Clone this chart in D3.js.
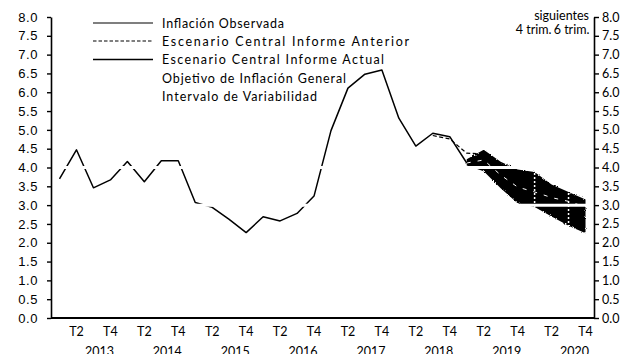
<!DOCTYPE html>
<html>
<head>
<meta charset="utf-8">
<script src="https://cdn.jsdelivr.net/npm/d3@7"></script>
<style>
  html, body { margin: 0; padding: 0; background: #fff; }
  svg { display: block; }
</style>
</head>
<body>
<svg id="chart" width="626" height="354"></svg>
<script>
// Quarterly axis
const years = [2013, 2014, 2015, 2016, 2017, 2018, 2019, 2020];
const quarterNames = ["T1", "T2", "T3", "T4"];
const labelledQuarters = ["T2", "T4"];

// Annual headline inflation, quarterly averages (%), 2013 T1 – 2019 T1
const observed = [3.70, 4.47, 3.46, 3.67, 4.16, 3.62, 4.18, 4.18,
                  3.07, 2.94, 2.62, 2.27, 2.69, 2.58, 2.78, 3.24,
                  4.98, 6.11, 6.48, 6.59, 5.31, 4.57, 4.91, 4.82, 4.12];

// Previous report's central path, 2018 T3 – 2020 T4
const previousStart = "2018T3";
const previousScenario = [4.85, 4.76, 4.38, 4.36, 4.05, 3.65, 3.40, 3.20, 3.10, 3.00];

// Current report: central path and fan bounds, 2019 T1 – 2020 T4
const forecastStart = "2019T1";
const currentScenario = [4.12, 4.20, 3.80, 3.48, 3.35, 3.20, 3.10, 2.95];
const fanUpper = [4.22, 4.47, 4.15, 3.95, 3.88, 3.55, 3.35, 3.15];
const fanLower = [4.05, 3.90, 3.45, 3.05, 2.95, 2.70, 2.45, 2.25];

// Inflation target and variability interval
const targetValue = 3.0;
const intervalValues = [2.0, 4.0];

// Forecast horizon markers
const horizonQuarters = ["2020T1", "2020T3"];
const horizonLabels = ["4 trim.", "6 trim."];
const horizonTitle = "siguientes";

// Y axis ticks
const yTicks = [0, 0.5, 1, 1.5, 2, 2.5, 3, 3.5, 4, 4.5, 5, 5.5, 6, 6.5, 7, 7.5, 8];

// Legend
const legendLabels = ["Inflación Observada",
                      "Escenario Central Informe Anterior",
                      "Escenario Central Informe Actual",
                      "Objetivo de Inflación General",
                      "Intervalo de Variabilidad"];
const legendWidths = [122, 247, 222, 184, 155];

const categories = years.flatMap(y => quarterNames.map(q => y + q));

const svg = d3.select("#chart");
const plot = { left: 51, right: 594, top: 17, bottom: 318 };

const x = d3.scaleBand().domain(categories).range([plot.left, plot.right]).padding(0);
const cx = c => x(c) + x.bandwidth() / 2;
const y = d3.scaleLinear().domain([0, 8]).range([plot.bottom, plot.top]);

const lineGen = d3.line().x(d => cx(d.c)).y(d => y(d.v));
const seriesFrom = (start, values) => {
  const i0 = categories.indexOf(start);
  return values.map((v, i) => ({ c: categories[i0 + i], v }));
};

// rough edges for the fan
const defs = svg.append("defs");
const f = defs.append("filter").attr("id", "rough")
  .attr("x", "-5%").attr("y", "-5%").attr("width", "110%").attr("height", "110%");
f.append("feTurbulence").attr("type", "fractalNoise").attr("baseFrequency", 0.9)
  .attr("numOctaves", 1).attr("seed", 4).attr("result", "noise");
f.append("feDisplacementMap").attr("in", "SourceGraphic").attr("in2", "noise")
  .attr("scale", 3).attr("xChannelSelector", "R").attr("yChannelSelector", "G");

// previous central scenario (dashed)
svg.append("path")
  .datum(seriesFrom(previousStart, previousScenario))
  .attr("d", lineGen)
  .attr("fill", "none").attr("stroke", "#000").attr("stroke-width", 1.2)
  .attr("stroke-dasharray", "4,2.5");

// fan chart
const fanStartIdx = categories.indexOf(forecastStart);
const fanData = fanUpper.map((u, i) => ({ c: categories[fanStartIdx + i], u, l: fanLower[i] }));
svg.append("path")
  .datum(fanData)
  .attr("d", d3.area().x(d => cx(d.c)).y0(d => y(d.l)).y1(d => y(d.u)))
  .attr("fill", "#050505")
  .attr("filter", "url(#rough)");

// current central scenario
svg.append("path")
  .datum(seriesFrom(forecastStart, currentScenario))
  .attr("d", lineGen)
  .attr("fill", "none").attr("stroke", "#fff").attr("stroke-width", 1)
  .attr("stroke-dasharray", "4,7");

// observed inflation
svg.append("path")
  .datum(seriesFrom(categories[0], observed))
  .attr("d", lineGen)
  .attr("fill", "none").attr("stroke", "#000").attr("stroke-width", 1.5)
  .attr("stroke-linejoin", "round");

// target and variability interval
svg.selectAll("line.ref")
  .data([targetValue, ...intervalValues])
  .join("line").attr("class", "ref")
  .attr("x1", plot.left + 2).attr("x2", plot.right - 2)
  .attr("y1", d => y(d)).attr("y2", d => y(d))
  .attr("stroke", "#fff").attr("stroke-width", 3);

// horizon markers
svg.selectAll("line.horizon")
  .data(horizonQuarters)
  .join("line").attr("class", "horizon")
  .attr("x1", d => cx(d)).attr("x2", d => cx(d))
  .attr("y1", plot.top).attr("y2", plot.bottom - 1)
  .attr("stroke", "#fff").attr("stroke-width", 1.5)
  .attr("stroke-dasharray", "2,2");

// axes
const leftAxis = svg.append("g")
  .attr("transform", `translate(${plot.left},0)`)
  .call(d3.axisLeft(y).tickValues(yTicks).tickFormat(d3.format(".1f"))
    .tickSizeInner(4).tickSizeOuter(0).tickPadding(9));
leftAxis.selectAll("text")
  .attr("font-family", "'Liberation Sans', Arial, sans-serif")
  .attr("font-size", 13).attr("fill", "#000").attr("letter-spacing", 0.6);

const rightAxis = svg.append("g")
  .attr("transform", `translate(${plot.right},0)`)
  .call(d3.axisRight(y).tickValues(yTicks).tickFormat(d3.format(".1f"))
    .tickSizeInner(5).tickSizeOuter(0).tickPadding(3));
rightAxis.selectAll("text")
  .attr("font-family", "Lato, 'Open Sans', sans-serif")
  .attr("font-size", 12.5).attr("fill", "#000");

[leftAxis, rightAxis].forEach(g => {
  g.select(".domain").attr("stroke", "#000").attr("stroke-width", 1.6);
  g.selectAll(".tick line").attr("stroke", "#000").attr("stroke-width", 1.4);
});

// x axis line
svg.append("line")
  .attr("x1", plot.left).attr("x2", plot.right)
  .attr("y1", y(0)).attr("y2", y(0))
  .attr("stroke", "#000").attr("stroke-width", 1.8);

// quarter labels
const qLabels = categories.filter(c => labelledQuarters.includes(c.slice(4)));
svg.selectAll("text.q")
  .data(qLabels)
  .join("text").attr("class", "q")
  .attr("x", d => cx(d)).attr("y", 336)
  .attr("text-anchor", "middle")
  .attr("font-family", "Lato, 'Open Sans', sans-serif")
  .attr("font-size", 12.5).attr("fill", "#000")
  .text(d => d.slice(4));

// year labels
svg.selectAll("text.yr")
  .data(years)
  .join("text").attr("class", "yr")
  .attr("x", d => cx(d + "T3") + 6).attr("y", 355.5)
  .attr("text-anchor", "middle")
  .attr("font-family", "Lato, 'Open Sans', sans-serif")
  .attr("font-size", 12.5).attr("fill", "#000")
  .text(d => d);

// horizon labels
const hFont = "Lato, 'Open Sans', sans-serif";
svg.append("text")
  .attr("x", 589).attr("y", 20).attr("text-anchor", "end")
  .attr("font-family", hFont).attr("font-size", 12.5).attr("fill", "#000")
  .text(horizonTitle);
svg.selectAll("text.hl")
  .data(horizonQuarters)
  .join("text").attr("class", "hl")
  .attr("x", (d, i) => cx(d) + (i === 0 ? -1 : 3)).attr("y", 34).attr("text-anchor", "middle")
  .attr("font-family", hFont).attr("font-size", 12.5).attr("fill", "#000")
  .text((d, i) => horizonLabels[i]);

// legend
const legendY = [23, 41, 59.5, 78, 96.5];
const legend = svg.append("g");
const legendStroke = [
  { dash: null, w: 1.2 },
  { dash: "3.5,2", w: 1.1 },
  { dash: null, w: 1.6 },
  null, null
];
legendLabels.forEach((label, i) => {
  const s = legendStroke[i];
  if (s) {
    legend.append("line")
      .attr("x1", 93).attr("x2", 153)
      .attr("y1", legendY[i]).attr("y2", legendY[i])
      .attr("stroke", "#000").attr("stroke-width", s.w)
      .attr("stroke-dasharray", s.dash);
  }
  legend.append("text")
    .attr("x", 162).attr("y", legendY[i] + 4.5)
    .attr("font-family", "Lato, 'Open Sans', sans-serif")
    .attr("font-size", 12.5).attr("fill", "#000")
    .attr("textLength", legendWidths[i]).attr("lengthAdjust", "spacing")
    .text(label);
});
</script>
</body>
</html>
